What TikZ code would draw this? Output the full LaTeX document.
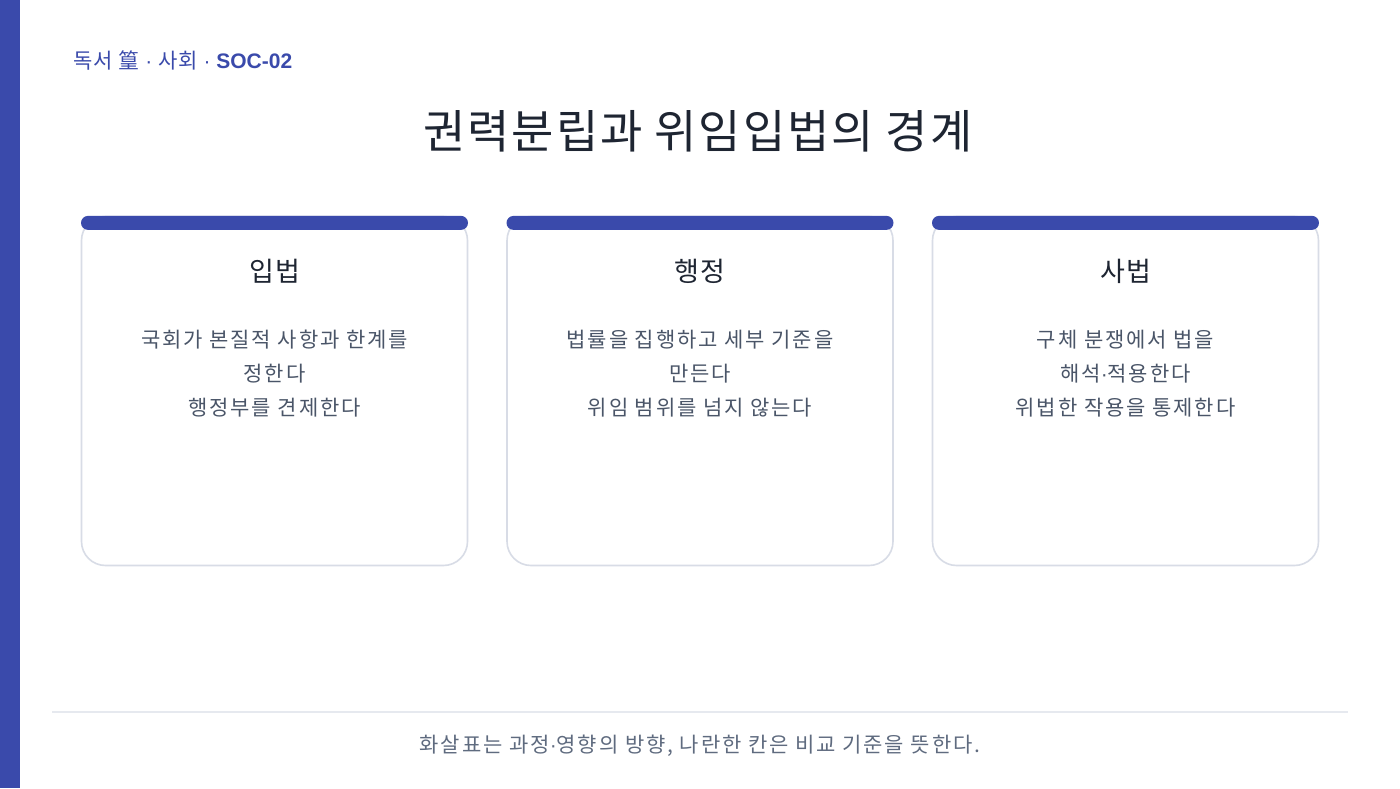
\documentclass[tikz,border=0pt]{standalone}
\usepackage{fontspec}
\usepackage{xcolor}
\usepackage{tikz}
\usetikzlibrary{positioning}
\setmainfont{Liberation Sans}
\newfontfamily\kr{Noto Sans CJK KR}
\newfontfamily\krw[LetterSpace=9]{Noto Sans CJK KR}
\newfontfamily\krt[LetterSpace=4]{Noto Sans CJK KR}
\newcommand{\mdot}{{\rmfamily\textperiodcentered}}

\definecolor{accent}{HTML}{3A4AAB}
\definecolor{cardline}{HTML}{D8DCE6}
\definecolor{ink}{HTML}{1E2532}
\definecolor{bodyink}{HTML}{4A5568}
\definecolor{footink}{HTML}{5F6B7F}
\definecolor{ruleline}{HTML}{E6E9EF}

\tikzset{
	card/.style={draw=cardline,line width=1.6pt,fill=white,rounded corners=24pt,minimum width=386pt,minimum height=349pt,inner sep=0pt},
	cardbar/.style={fill=accent,rounded corners=7pt,minimum width=387pt,minimum height=14pt,inner sep=0pt,anchor=north},
	cardtitle/.style={text=ink,font=\krt\fontsize{27}{30}\selectfont},
	cardbody/.style={text=bodyink,align=center,font=\krw\fontsize{21}{34}\selectfont}
}

\begin{document}
\begin{tikzpicture}[x=1pt,y=1pt]
		\useasboundingbox (0,0) rectangle (1400,788);
		\fill[white] (0,0) rectangle (1400,788);
		\fill[accent] (0,0) rectangle (20,788);
		% header
		\node (tag) [anchor=west,text=accent,font=\fontsize{21}{24}\selectfont] at (70,727) {{\krt 독서 篁} \mdot{} {\krt 사회} \mdot{} \textbf{SOC-02}};
		\node (title) [text=ink,font=\krt\fontsize{46}{50}\selectfont] at (698,657) {권력분립과 위임입법의 경계};
		% cards
		\node (leg) [card] at (274.5,397) {};
		\node (legbar) [cardbar] at (leg.north) {};
		\node (legT) [cardtitle] at ([yshift=-56pt]leg.north) {입법};
		\node (legB) [cardbody] at ([yshift=-158pt]leg.north) {국회가 본질적 사항과 한계를\\정한다\\행정부를 견제한다};
		\node (exe) [card] at (700,397) {};
		\node (exebar) [cardbar] at (exe.north) {};
		\node (exeT) [cardtitle] at ([yshift=-56pt]exe.north) {행정};
		\node (exeB) [cardbody] at ([yshift=-158pt]exe.north) {법률을 집행하고 세부 기준을\\만든다\\위임 범위를 넘지 않는다};
		\node (jud) [card] at (1125.5,397) {};
		\node (judbar) [cardbar] at (jud.north) {};
		\node (judT) [cardtitle] at ([yshift=-56pt]jud.north) {사법};
		\node (judB) [cardbody] at ([yshift=-158pt]jud.north) {구체 분쟁에서 법을\\해석\mdot{}적용한다\\위법한 작용을 통제한다};
		% footer
		\coordinate (ruleL) at (52,76);
		\coordinate (ruleR) at (1348,76);
		\draw[ruleline,line width=1.2pt] (ruleL) -- (ruleR);
		\node (note) [text=footink,font=\krw\fontsize{21}{24}\selectfont] at (700,42) {화살표는 과정\mdot{}영향의 방향, 나란한 칸은 비교 기준을 뜻한다.};
	\end{tikzpicture}
\end{document}
